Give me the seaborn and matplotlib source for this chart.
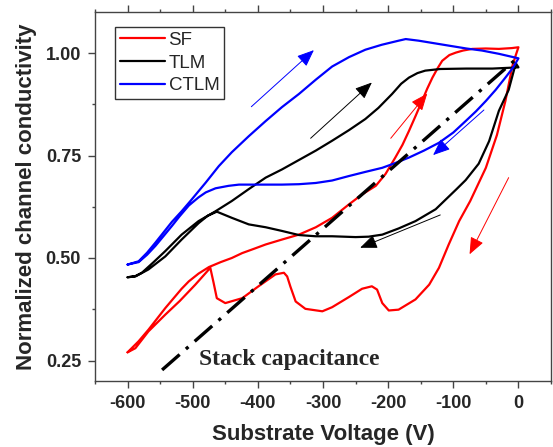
import numpy as np
import pandas as pd
import matplotlib
matplotlib.use('Agg')
import matplotlib.pyplot as plt
from matplotlib.ticker import MultipleLocator
import seaborn as sns

# SF loop: up-going branch, then back down
sf_v = [-600, -583, -568, -542, -517, -506, -491, -475, -457, -440, -424, -405, -388, -363, -337,
        -311, -286, -260, -240, -219, -204, -189, -178, -168, -158, -148, -140, -132, -124, -117,
        -106, -96, -85, -71, -50, -30, -10, 0,
        -4, -9, -20, -33, -50, -74, -91, -107, -122, -137, -158, -184, -199, -209, -217, -225,
        -240, -260, -286, -301, -327, -342, -350, -355, -360, -373, -399, -424, -450, -463, -468,
        -473, -496, -520, -542, -568, -588, -600]
sf_g = [0.270, 0.297, 0.325, 0.378, 0.425, 0.443, 0.462, 0.478, 0.490, 0.500, 0.512, 0.523, 0.533,
        0.545, 0.557, 0.575, 0.598, 0.631, 0.655, 0.676, 0.705, 0.745, 0.776, 0.810, 0.846, 0.883,
        0.913, 0.940, 0.963, 0.981, 0.995, 1.001, 1.006, 1.010, 1.011, 1.010, 1.012, 1.014,
        0.995, 0.970, 0.883, 0.800, 0.720, 0.639, 0.590, 0.533, 0.476, 0.435, 0.399, 0.374, 0.372,
        0.390, 0.423, 0.431, 0.425, 0.405, 0.380, 0.370, 0.376, 0.394, 0.430, 0.455, 0.464, 0.460,
        0.431, 0.402, 0.390, 0.402, 0.440, 0.476, 0.435, 0.395, 0.362, 0.321, 0.280, 0.270]

# TLM loop
tlm_v = [-600, -588, -578, -560, -542, -517, -491, -465, -440, -414, -388, -363, -337, -311, -286,
         -260, -235, -215, -194, -180, -168, -155, -143, -120, -80, -40, 0,
         -4, -15, -30, -45, -61, -81, -95, -112, -127, -158, -184, -209, -230, -250, -286, -311,
         -337, -363, -388, -414, -440, -463, -477, -491, -504, -517, -542, -568, -588, -600]
tlm_g = [0.453, 0.456, 0.464, 0.490, 0.517, 0.557, 0.590, 0.614, 0.639, 0.668, 0.696, 0.716, 0.739,
         0.762, 0.786, 0.812, 0.839, 0.866, 0.900, 0.925, 0.940, 0.951, 0.957, 0.961, 0.962, 0.962,
         0.965,
         0.975, 0.910, 0.859, 0.785, 0.730, 0.690, 0.668, 0.642, 0.619, 0.590, 0.572, 0.557, 0.552,
         0.551, 0.553, 0.553, 0.556, 0.566, 0.575, 0.582, 0.598, 0.613, 0.603, 0.585, 0.565, 0.545,
         0.504, 0.472, 0.455, 0.453]

# CTLM loop
ctlm_v = [-600, -583, -570, -557, -532, -517, -503, -480, -460, -440, -414, -388, -363, -337, -311,
          -286, -260, -235, -210, -184, -173, -153, -130, -107, -80, -56, -30, 0,
          -8, -20, -35, -50, -65, -81, -100, -122, -145, -168, -190, -209, -235, -260, -286, -311,
          -337, -363, -388, -414, -429, -445, -465, -480, -491, -506, -520, -532, -545, -557, -570,
          -583, -600]
ctlm_g = [0.484, 0.492, 0.513, 0.538, 0.588, 0.614, 0.640, 0.684, 0.724, 0.758, 0.797, 0.834, 0.868,
          0.900, 0.935, 0.967, 0.990, 1.008, 1.020, 1.030, 1.034, 1.030, 1.024, 1.018, 1.011, 1.006,
          0.998, 0.987,
          0.965, 0.940, 0.910, 0.883, 0.858, 0.834, 0.806, 0.781, 0.762, 0.745, 0.731, 0.720, 0.710,
          0.700, 0.689, 0.683, 0.680, 0.679, 0.679, 0.679, 0.679, 0.676, 0.670, 0.660, 0.648, 0.628,
          0.602, 0.578, 0.553, 0.530, 0.508, 0.490, 0.484]

# stack capacitance line
stack_v = [-547, 0]
stack_g = [0.227, 0.99]

# direction arrows: (start V, start g, end V, end g)
arrow_color = ['blue', 'black', 'red', 'blue', 'black', 'red']
arrow_v0 = [-410, -319, -196, -53, -120, -15]
arrow_g0 = [0.869, 0.792, 0.792, 0.861, 0.605, 0.696]
arrow_v1 = [-314, -225, -140, -131, -243, -75]
arrow_g1 = [1.007, 0.928, 0.901, 0.751, 0.525, 0.509]

df = pd.concat([
    pd.DataFrame({'V': sf_v, 'g': sf_g, 'sample': 'SF'}),
    pd.DataFrame({'V': tlm_v, 'g': tlm_g, 'sample': 'TLM'}),
    pd.DataFrame({'V': ctlm_v, 'g': ctlm_g, 'sample': 'CTLM'}),
], ignore_index=True)
stack = pd.DataFrame({'V': stack_v, 'g': stack_g})

sns.set_theme(style='ticks')
plt.rcParams['font.family'] = ['Liberation Sans', 'DejaVu Sans']

fig = plt.figure(figsize=(5.53, 4.47), dpi=100)
ax = fig.add_axes([95 / 553, 1 - 381 / 447, 456 / 553, 369 / 447])

palette = {'SF': '#ff0000', 'TLM': '#000000', 'CTLM': '#0000ff'}
sns.lineplot(data=df, x='V', y='g', hue='sample', palette=palette, sort=False,
             estimator=None, lw=1.6, ax=ax)
sns.lineplot(data=stack, x='V', y='g', color='black', lw=2.4, ax=ax,
             dashes=False, legend=False).lines[-1].set_dashes((7, 2.5, 1, 2.5))

for c, v0, g0, v1, g1 in zip(arrow_color, arrow_v0, arrow_g0, arrow_v1, arrow_g1):
    ax.annotate('', xy=(v1, g1), xytext=(v0, g0),
                arrowprops=dict(arrowstyle='-|>,head_length=0.8,head_width=0.33',
                                color=c, lw=0.7, mutation_scale=13, shrinkA=0, shrinkB=0))

ax.text(-491, 0.252, 'Stack capacitance', family=['Liberation Serif'], fontweight='bold',
        fontsize=17, va='center', ha='left')

ax.set_xlim(-650, 50)
ax.set_ylim(0.2, 1.1)
ax.xaxis.set_major_locator(MultipleLocator(100))
ax.xaxis.set_minor_locator(MultipleLocator(50))
ax.yaxis.set_major_locator(MultipleLocator(0.25))
ax.yaxis.set_minor_locator(MultipleLocator(0.125))
ax.tick_params(which='both', direction='out', top=True, right=False, color='#444444', width=1)
ax.tick_params(which='major', length=5, labelsize=13, pad=5)
ax.tick_params(which='minor', length=2.5)
ax.tick_params(axis='x', which='major', labeltop=False)
ax.set_xticks(np.arange(-600, 1, 100))
ax.set_xticklabels([str(t) for t in range(-600, 1, 100)], fontweight='bold')
ax.set_yticks([0.25, 0.5, 0.75, 1.0])
ax.set_yticklabels(['0.25', '0.50', '0.75', '1.00'], fontweight='bold')
for s in ax.spines.values():
    s.set_color('#444444')
    s.set_linewidth(1)

ax.set_xlabel('Substrate Voltage (V)', fontsize=16, fontweight='bold', labelpad=9)
ax.set_ylabel('Normalized channel conductivity', fontsize=16, fontweight='bold', labelpad=6)

leg = ax.legend(loc='upper left', bbox_to_anchor=(0.044, 0.959), borderaxespad=0,
                fontsize=13.5, frameon=True, fancybox=False, edgecolor='black',
                handlelength=2.4, handletextpad=0.2, labelspacing=0.3, borderpad=0.25)
leg.get_frame().set_linewidth(1)
leg.set_title(None)

fig.savefig('out.png', dpi=100)
